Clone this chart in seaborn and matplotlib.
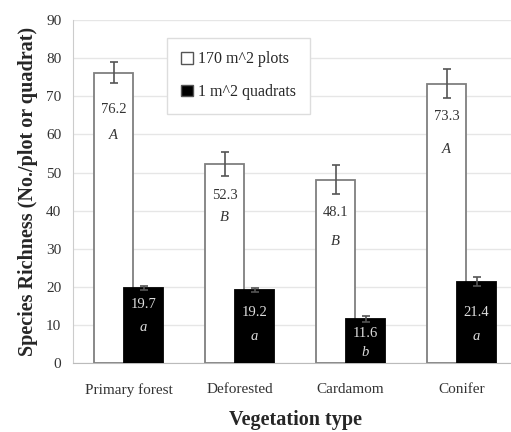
import numpy as np
import pandas as pd
import matplotlib
matplotlib.use('Agg')
import matplotlib.pyplot as plt
import seaborn as sns

# data
veg_types = ['Primary forest', 'Deforested', 'Cardamom', 'Conifer']
series_names = ['170 m^2 plots', '1 m^2 quadrats']
plot_vals = [76.2, 52.3, 48.1, 73.3]
plot_err = [2.7, 3.2, 3.8, 3.7]
plot_letters = ['A', 'B', 'B', 'A']
quad_vals = [19.7, 19.2, 11.6, 21.4]
quad_err = [0.6, 0.6, 0.8, 1.2]
quad_letters = ['a', 'a', 'b', 'a']

# where the in-bar labels sit (data units)
plot_num_y = [66.4, 43.9, 39.4, 64.6]
plot_let_y = [59.8, 38.1, 31.8, 55.9]
quad_num_y = [15.3, 13.2, 7.9, 13.2]
quad_let_y = [9.5, 6.9, 2.9, 6.9]

df = pd.DataFrame({
    'veg': veg_types * 2,
    'val': plot_vals + quad_vals,
    'series': [series_names[0]] * 4 + [series_names[1]] * 4,
})

sns.set_style('white')
plt.rcParams['font.family'] = ['Liberation Serif', 'DejaVu Serif']

fig = plt.figure(figsize=(5.11, 4.32), dpi=100)
ax = fig.add_axes([0.143, 0.159, 0.869, 0.795])

sns.barplot(data=df, x='veg', y='val', hue='series', palette=['white', 'black'],
            width=0.6, errorbar=None, ax=ax, zorder=2)

# Excel-like overlap of the two bars in each group
bw = 0.345
shift = 0.135
edge_cols = ['#7f7f7f', 'black']
for k, cont in enumerate(ax.containers):
    for i, p in enumerate(cont.patches):
        cx = i + (-shift if k == 0 else shift)
        p.set_width(bw)
        p.set_x(cx - bw / 2)
        p.set_edgecolor(edge_cols[k])
        p.set_linewidth(1.3)
        p.set_zorder(2 + k)

xs0 = [p.get_x() + p.get_width() / 2 for p in ax.containers[0].patches]
xs1 = [p.get_x() + p.get_width() / 2 for p in ax.containers[1].patches]
ax.errorbar(xs0, plot_vals, yerr=plot_err, fmt='none', ecolor='#555555',
            elinewidth=1.2, capsize=3, capthick=1.2, zorder=5)
ax.errorbar(xs1, quad_vals, yerr=quad_err, fmt='none', ecolor='#555555',
            elinewidth=1.2, capsize=3, capthick=1.2, zorder=5)

for i in range(4):
    ax.text(xs0[i], plot_num_y[i], f'{plot_vals[i]:.1f}', ha='center', va='center',
            fontsize=10.5, color='#333333', zorder=6)
    ax.text(xs0[i], plot_let_y[i], plot_letters[i], ha='center', va='center',
            fontsize=10.5, style='italic', color='#333333', zorder=6)
    ax.text(xs1[i], quad_num_y[i], f'{quad_vals[i]:.1f}', ha='center', va='center',
            fontsize=10.5, color='#dddddd', zorder=6)
    ax.text(xs1[i], quad_let_y[i], quad_letters[i], ha='center', va='center',
            fontsize=10.5, style='italic', color='#dddddd', zorder=6)

ax.set_ylim(0, 90)
ax.set_xlim(-0.5, 3.5)
ax.set_yticks(np.arange(0, 91, 10))
ax.yaxis.grid(True, color='#e6e6e6', linewidth=1)
ax.set_axisbelow(True)
ax.set_xticks(range(4))
ax.set_xticklabels(veg_types)
ax.set_xticks([0.5, 1.5, 2.5], minor=True)
ax.tick_params(axis='x', which='major', length=0, labelsize=11, labelcolor='#333333', pad=14)
ax.tick_params(axis='x', which='minor', length=4, color='#bbbbbb', width=1)
ax.tick_params(axis='y', length=5, color='#cccccc', labelsize=11, labelcolor='#333333')
for s in ['top', 'right']:
    ax.spines[s].set_visible(False)
ax.spines['left'].set_color('#cccccc')
ax.spines['bottom'].set_color('#bbbbbb')

ax.set_xlabel('Vegetation type', fontsize=14.5, fontweight='bold', labelpad=10)
ax.set_ylabel('Species Richness (No./plot or quadrat)', fontsize=14.5, fontweight='bold', labelpad=6)

leg = ax.legend(loc='upper left', bbox_to_anchor=(0.212, 0.948), borderaxespad=0,
                fontsize=11.5, handlelength=0.75, handleheight=0.75, handletextpad=0.35,
                labelspacing=1.05, borderpad=0.85, fancybox=False, framealpha=1)
leg.get_frame().set_edgecolor('#dddddd')
for h in leg.legend_handles:
    h.set_edgecolor('#555555')

fig.savefig('out.png', dpi=100)
